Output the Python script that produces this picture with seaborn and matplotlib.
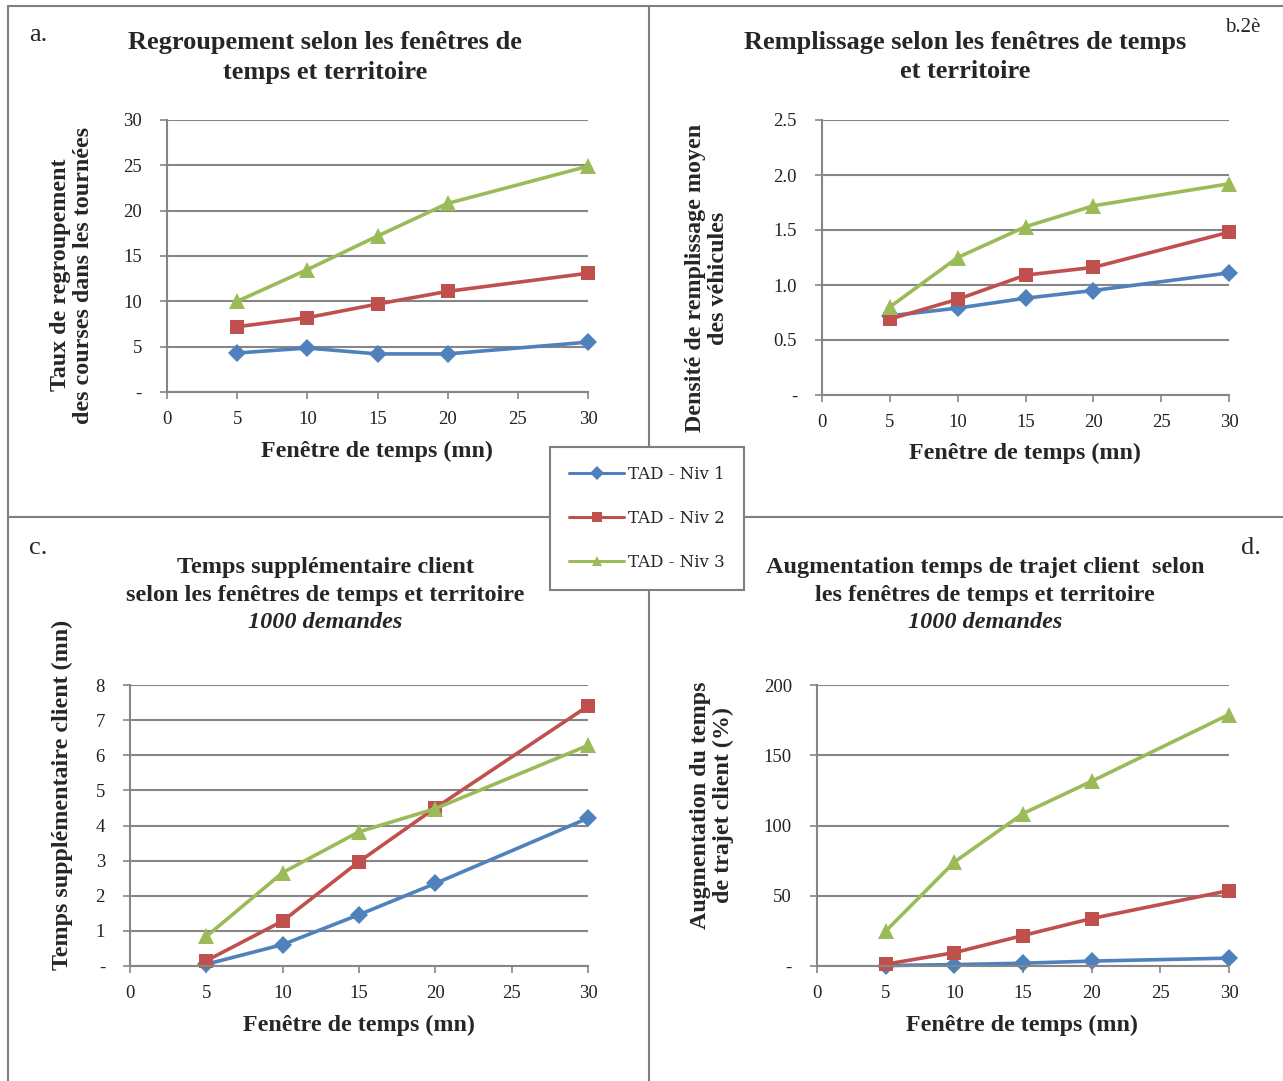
import numpy as np
import pandas as pd
import matplotlib
matplotlib.use("Agg")
import matplotlib.pyplot as plt
from matplotlib.lines import Line2D
import seaborn as sns

# ---------------- data ----------------
windows = [5, 10, 15, 20, 30]
series_names = ["TAD - Niv 1", "TAD - Niv 2", "TAD - Niv 3"]

regroup_niv1 = [4.3, 4.85, 4.2, 4.2, 5.5]
regroup_niv2 = [7.2, 8.2, 9.7, 11.1, 13.1]
regroup_niv3 = [10.0, 13.5, 17.2, 20.8, 24.9]

remplis_niv1 = [0.72, 0.79, 0.88, 0.95, 1.11]
remplis_niv2 = [0.69, 0.87, 1.09, 1.16, 1.48]
remplis_niv3 = [0.80, 1.25, 1.53, 1.72, 1.92]

tsupp_niv1 = [0.05, 0.61, 1.46, 2.35, 4.21]
tsupp_niv2 = [0.15, 1.28, 2.97, 4.50, 7.40]
tsupp_niv3 = [0.84, 2.66, 3.82, 4.48, 6.28]

augm_niv1 = [0.3, 1.0, 2.0, 3.5, 5.6]
augm_niv2 = [1.3, 9.5, 21.7, 33.8, 53.7]
augm_niv3 = [24.8, 74.0, 108.5, 131.5, 179.0]

x_ticks = [0, 5, 10, 15, 20, 25, 30]
yticks_a = [0, 5, 10, 15, 20, 25, 30]
ylabels_a = ["-", "5", "10", "15", "20", "25", "30"]
yticks_b = [0, 0.5, 1.0, 1.5, 2.0, 2.5]
ylabels_b = ["-", "0.5", "1.0", "1.5", "2.0", "2.5"]
yticks_c = [0, 1, 2, 3, 4, 5, 6, 7, 8]
ylabels_c = ["-", "1", "2", "3", "4", "5", "6", "7", "8"]
yticks_d = [0, 50, 100, 150, 200]
ylabels_d = ["-", "50", "100", "150", "200"]

colors = ["#4F81BD", "#C0504D", "#9BBB59"]
markers = ["D", "s", "^"]
marker_px = {"D": 8.8, "s": 10.3, "^": 11.5}


def long_df(v1, v2, v3):
    rows = []
    for name, vals in zip(series_names, [v1, v2, v3]):
        for xw, v in zip(windows, vals):
            rows.append({"x": xw, "y": v, "serie": name})
    return pd.DataFrame(rows)


sns.set_theme(style="white")
plt.rcParams["font.family"] = ["Liberation Serif", "DejaVu Serif"]

W, H = 1283, 1081
fig = plt.figure(figsize=(W / 100, H / 100), dpi=100)


def px_axes(l, r, t, b):
    return fig.add_axes([l / W, 1 - b / H, (r - l) / W, (b - t) / H])


GRID = "#868686"


def draw_panel(ax, df, yticks, ylabels):
    sns.lineplot(data=df, x="x", y="y", hue="serie", style="serie",
                 palette=colors, markers=markers, dashes=False,
                 markersize=10, markeredgewidth=0, linewidth=2.6,
                 ax=ax, legend=True)
    ax.set_xlim(0, 30)
    ax.set_ylim(yticks[0], yticks[-1])
    ax.set_xticks(x_ticks)
    ax.set_xticklabels([str(t) for t in x_ticks])
    ax.set_yticks(yticks)
    ax.set_yticklabels(ylabels)
    ax.set_xlabel("")
    ax.set_ylabel("")
    for s in ["top", "right"]:
        ax.spines[s].set_visible(False)
    for s in ["left", "bottom"]:
        ax.spines[s].set_color(GRID)
        ax.spines[s].set_linewidth(1.5)
    ax.yaxis.grid(True, color=GRID, linewidth=1.5)
    ax.xaxis.grid(False)
    ax.set_axisbelow(True)
    ax.tick_params(axis="both", direction="out", length=5, width=1.2,
                   color=GRID, labelsize=13.5, labelcolor="#222222",
                   bottom=True, left=True)
    ax.tick_params(axis="x", pad=9)
    ax.tick_params(axis="y", pad=13)
    ax.set_facecolor("none")
    for line in ax.get_lines():
        line.set_clip_on(False)
        m = line.get_marker()
        if m in marker_px:
            line.set_markersize(marker_px[m])
    ax.get_legend().remove()


ax_a = px_axes(167, 588, 120, 392)
ax_b = px_axes(822, 1229, 120, 395)
ax_c = px_axes(130, 588, 685, 966)
ax_d = px_axes(817, 1229, 685, 966)

draw_panel(ax_a, long_df(regroup_niv1, regroup_niv2, regroup_niv3), yticks_a, ylabels_a)
draw_panel(ax_b, long_df(remplis_niv1, remplis_niv2, remplis_niv3), yticks_b, ylabels_b)
draw_panel(ax_c, long_df(tsupp_niv1, tsupp_niv2, tsupp_niv3), yticks_c, ylabels_c)
draw_panel(ax_d, long_df(augm_niv1, augm_niv2, augm_niv3), yticks_d, ylabels_d)


def ftext(x, y, s, **kw):
    fig.text(x / W, 1 - y / H, s, **kw)


TS = 19.0
TS2 = 17.5
AS = 17.3
# titles
ftext(325, 43, "Regroupement selon les fenêtres de", ha="center", va="center", fontsize=TS, fontweight="bold")
ftext(325, 72, "temps et territoire", ha="center", va="center", fontsize=TS, fontweight="bold")
ftext(965, 43, "Remplissage selon les fenêtres de temps", ha="center", va="center", fontsize=TS, fontweight="bold")
ftext(965, 72, "et territoire", ha="center", va="center", fontsize=TS, fontweight="bold")
ftext(325, 568, "Temps supplémentaire client", ha="center", va="center", fontsize=TS2, fontweight="bold")
ftext(325, 595, "selon les fenêtres de temps et territoire", ha="center", va="center", fontsize=TS2, fontweight="bold")
ftext(325, 622, "1000 demandes", ha="center", va="center", fontsize=TS2, fontweight="bold", style="italic")
ftext(985, 568, "Augmentation temps de trajet client  selon", ha="center", va="center", fontsize=TS2, fontweight="bold")
ftext(985, 595, "les fenêtres de temps et territoire", ha="center", va="center", fontsize=TS2, fontweight="bold")
ftext(985, 622, "1000 demandes", ha="center", va="center", fontsize=TS2, fontweight="bold", style="italic")

# panel letters
ftext(38, 35, "a.", ha="center", va="center", fontsize=19)
ftext(1243, 28, "b.2è", ha="center", va="center", fontsize=15)
ftext(38, 548, "c.", ha="center", va="center", fontsize=19)
ftext(1251, 548, "d.", ha="center", va="center", fontsize=19)

# x labels
for xc, yc in [(377, 451), (1025, 453), (359, 1025), (1022, 1025)]:
    ftext(xc, yc, "Fenêtre de temps (mn)", ha="center", va="center", fontsize=AS, fontweight="bold")

# y labels
ftext(72, 275, "Taux de regroupement\ndes courses dans les tournées", ha="center", va="center",
      rotation=90, fontsize=AS, fontweight="bold", linespacing=1.15)
ftext(707, 278, "Densité de remplissage moyen\ndes véhicules", ha="center", va="center",
      rotation=90, fontsize=AS, fontweight="bold", linespacing=1.15)
ftext(62, 795, "Temps supplémentaire client (mn)", ha="center", va="center",
      rotation=90, fontsize=AS, fontweight="bold")
ftext(712, 805, "Augmentation du temps\nde trajet client (%)", ha="center", va="center",
      rotation=90, fontsize=AS, fontweight="bold", linespacing=1.15)

# panel frame lines
FR = "#7f7f7f"


def fline(x0, y0, x1, y1):
    fig.add_artist(Line2D([x0 / W, x1 / W], [1 - y0 / H, 1 - y1 / H], color=FR, linewidth=1.5))


fline(8, 6, 1283, 6)
fline(8, 6, 8, 1081)
fline(649, 6, 649, 1081)
fline(8, 517, 1283, 517)

# legend
leg_handles = []
for c, m in zip(colors, markers):
    leg_handles.append(Line2D([0], [0], color=c, marker=m, markersize=7, markeredgewidth=0, linewidth=2.2))
leg = fig.legend(leg_handles, series_names, loc="center", bbox_to_anchor=(647 / W, 1 - 518.5 / H),
                 frameon=True, fancybox=False, edgecolor=FR, framealpha=1, facecolor="white",
                 prop={"family": "DejaVu Serif", "size": 12}, handlelength=3.3, handletextpad=0.2,
                 labelspacing=1.6, borderpad=1.15)
leg.get_frame().set_linewidth(1.5)
leg.set_zorder(10)

fig.savefig("out.png", dpi=100)
